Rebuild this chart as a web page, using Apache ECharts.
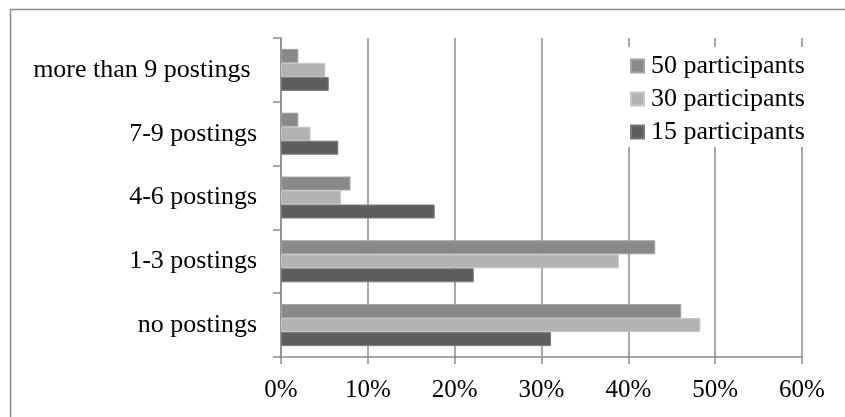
<!DOCTYPE html>
<html>
<head>
<meta charset="utf-8">
<script src="https://cdn.jsdelivr.net/npm/echarts@6/dist/echarts.min.js"></script>
<style>
  html, body { margin: 0; padding: 0; background: #fff; }
  #chart { width: 845px; height: 417px; }
</style>
</head>
<body>
<div id="chart"></div>
<script>
// Share of participants by number of postings, per group size (percent)
const categories = ['no postings', '1-3 postings', '4-6 postings', '7-9 postings', 'more than 9 postings '];
const seriesNames = ['50 participants', '30 participants', '15 participants'];
const p50 = [46.1, 43.1, 8.0, 2.0, 2.0];
const p30 = [48.3, 38.9, 6.9, 3.4, 5.1];
const p15 = [31.1, 22.2, 17.7, 6.6, 5.5];
const xTicks = { min: 0, max: 60, interval: 10 };

const colors = ['#898989', '#b3b3b3', '#5e5e5e'];
const edgeColors = ['#a3a3a3', '#c6c6c6', '#7a7a7a'];
const lineColor = '#8c8c8c';
const font = 'Liberation Serif';

const chart = echarts.init(document.getElementById('chart'), null, { renderer: 'canvas' });

const values = [p50, p30, p15];

chart.setOption({
  animation: false,
  backgroundColor: '#fff',
  textStyle: { fontFamily: font },
  // outer frame of the chart area
  graphic: [{
    type: 'rect',
    shape: { x: 10.5, y: 9.5, width: 900, height: 500 },
    style: { fill: 'none', stroke: lineColor, lineWidth: 1.5 },
    z: -1
  }],
  grid: { left: 281, right: 43, top: 38, bottom: 60, containLabel: false },
  legend: {
    orient: 'vertical',
    left: 622,
    top: 47,
    padding: [6, 40, 2, 8],
    backgroundColor: '#fff',
    itemWidth: 13,
    itemHeight: 13,
    itemGap: 7,
    icon: 'rect',
    data: seriesNames,
    textStyle: { fontFamily: font, fontSize: 26, color: '#000', lineHeight: 26, padding: [0, 0, 0, 2] },
    z: 10
  },
  xAxis: {
    type: 'value',
    min: xTicks.min,
    max: xTicks.max,
    interval: xTicks.interval,
    axisLine: { show: true, lineStyle: { color: lineColor, width: 1.5 } },
    axisTick: { show: true, length: 7, lineStyle: { color: lineColor, width: 1.5 } },
    axisLabel: { formatter: '{value}%', fontFamily: font, fontSize: 25, color: '#000', margin: 21 },
    splitLine: { show: true, lineStyle: { color: lineColor, width: 1.5 } }
  },
  yAxis: {
    type: 'category',
    data: categories,
    axisLine: { show: true, lineStyle: { color: lineColor, width: 1.5 } },
    axisTick: { show: true, length: 8, lineStyle: { color: lineColor, width: 1.5 } },
    axisLabel: { fontFamily: font, fontSize: 26, color: '#000', margin: 24 },
    splitLine: { show: false }
  },
  series: seriesNames.map((name, i) => ({
    name: name,
    type: 'bar',
    data: values[i],
    barWidth: 14,
    barGap: '0%',
    itemStyle: { color: colors[i], borderColor: edgeColors[i], borderWidth: 1 },
    z: 2
  }))
});
</script>
</body>
</html>
